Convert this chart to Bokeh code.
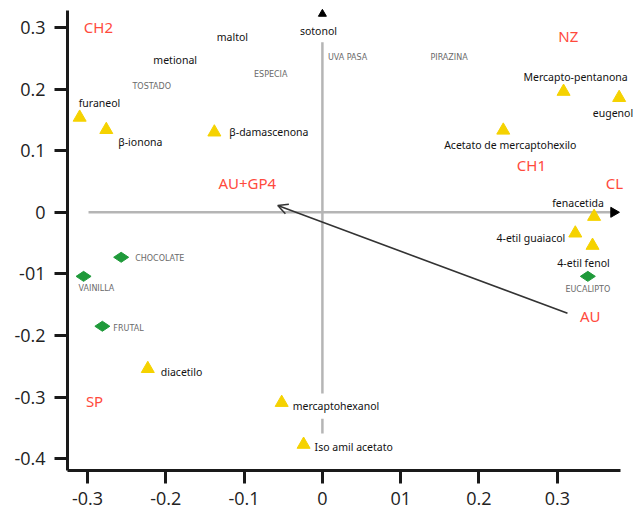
import math
from bokeh.plotting import figure
from bokeh.models import FixedTicker, Arrow, OpenHead, ColumnDataSource
from bokeh.core.properties import value
from bokeh.embed import file_html
from bokeh.resources import INLINE

# ---------------- data ----------------
x_ticks = [-0.3, -0.2, -0.1, 0.0, 0.1, 0.2, 0.3]
x_tick_labels = ["-0.3", "-0.2", "-0.1", "0", "01", "0.2", "0.3"]
y_ticks = [-0.4, -0.3, -0.2, -0.1, 0.0, 0.1, 0.2, 0.3]
y_tick_labels = ["-0.4", "-0.3", "-0.2", "-01", "0", "0.1", "0.2", "0.3"]

# aroma compounds (yellow triangles)
comp_names = ["furaneol", "β-ionona", "β-damascenona", "Mercapto-pentanona", "eugenol",
              "Acetato de mercaptohexilo", "fenacetida", "4-etil guaiacol", "4-etil fenol",
              "diacetilo", "mercaptohexanol", "Iso amil acetato"]
comp_x = [-0.310, -0.276, -0.138, 0.308, 0.379, 0.231, 0.347, 0.323, 0.345, -0.223, -0.052, -0.024]
comp_y = [0.154, 0.134, 0.130, 0.196, 0.186, 0.133, -0.007, -0.034, -0.054, -0.254, -0.309, -0.377]

# aroma descriptors (green diamonds)
desc_names = ["CHOCOLATE", "VAINILLA", "FRUTAL", "EUCALIPTO"]
desc_x = [-0.257, -0.305, -0.281, 0.339]
desc_y = [-0.073, -0.104, -0.185, -0.104]

# descriptors / compounds without marker
free_gray_names = ["TOSTADO", "ESPECIA", "UVA PASA", "PIRAZINA"]
free_gray_x = [-0.218, -0.066, 0.007, 0.138]
free_gray_y = [0.204, 0.224, 0.251, 0.251]
free_black_names = ["maltol", "metional", "sotonol"]
free_black_x = [-0.115, -0.188, -0.005]
free_black_y = [0.285, 0.248, 0.294]

# samples (red)
sample_names = ["CH2", "NZ", "CH1", "CL", "AU+GP4", "AU", "SP"]
sample_x = [-0.286, 0.314, 0.267, 0.373, -0.096, 0.342, -0.291]
sample_y = [0.300, 0.287, 0.076, 0.047, 0.047, -0.168, -0.307]

# vector AU -> AU+GP4
vec_start = (0.313, -0.164)
vec_end = (-0.057, 0.011)

# reference axes through the origin
h_axis_x = [-0.2987, 0.372]
v_axis_segments_y = [(0.276, -0.294), (-0.335, -0.359)]
v_axis_tip_y = 0.322

# ---------------- label layout (pixel offsets) ----------------
comp_align = ["left", "left", "left", "center", "right", "center", "center", "right", "center",
              "left", "left", "left"]
comp_dx = [-1, 12, 15, 12, 14, 7, -16, -10, -9, 13, 11, 11]
comp_dy = [-14, 12, 0, -15, 15, 15, -14, 5, 17, 3, 3, 2]
desc_align = ["left", "left", "left", "center"]
desc_dx = [14, -5, 11, 0]
desc_dy = [1, 12, 2, 13]

p = figure(width=636, height=518, output_backend="svg", toolbar_location=None,
           x_range=(-0.32554, 0.40115), y_range=(-0.41916, 0.34383),
           min_border_left=67, min_border_right=0, min_border_top=0, min_border_bottom=48)
p.outline_line_color = None
p.grid.grid_line_color = None
p.background_fill_color = "white"
p.border_fill_color = "white"

for ax, ticks, labels in ((p.xaxis[0], x_ticks, x_tick_labels), (p.yaxis[0], y_ticks, y_tick_labels)):
    ax.ticker = FixedTicker(ticks=ticks)
    ax.major_label_overrides = {t: l for t, l in zip(ticks, labels)}
    ax.axis_line_width = 3
    ax.axis_line_color = "#1a1a1a"
    ax.major_tick_line_width = 3
    ax.major_tick_line_color = "#1a1a1a"
    ax.major_tick_out = 13
    ax.major_tick_in = 0
    ax.minor_tick_line_color = None
    ax.major_label_text_font = "Open Sans"
    ax.major_label_text_font_size = "18px"
    ax.major_label_text_color = "#222222"
p.xaxis.bounds = (-0.3255, 0.381)
p.yaxis.bounds = (-0.419, 0.3276)
p.xaxis.major_label_standoff = 8
p.yaxis.major_label_standoff = 9

# reference axes (gray)
p.line(x=h_axis_x, y=[0, 0], line_color="#b5b5b5", line_width=2.5)
for y0, y1 in v_axis_segments_y:
    p.line(x=[0, 0], y=[y0, y1], line_color="#b5b5b5", line_width=2.5)
p.scatter(x=[h_axis_x[1]], y=[0], marker="triangle", angle=-math.pi / 2, size=10,
          fill_color="black", line_color="black")
p.scatter(x=[0], y=[v_axis_tip_y], marker="triangle", size=8, fill_color="black", line_color="black")

# vector
p.add_layout(Arrow(end=OpenHead(size=10, line_width=1.5, line_color="#333333"),
                   x_start=vec_start[0], y_start=vec_start[1], x_end=vec_end[0], y_end=vec_end[1],
                   line_color="#333333", line_width=1.6))

# markers
p.scatter(x=comp_x, y=comp_y, marker="triangle", size=13, fill_color="#f5d200", line_color="#f5d200")
p.scatter(x=desc_x, y=desc_y, marker="diamond", angle=math.pi / 2, size=15,
          fill_color="#1f9a3a", line_color="#1f9a3a")

# compound labels
csrc = ColumnDataSource(dict(x=comp_x, y=comp_y, t=comp_names, a=comp_align, dx=comp_dx, dy=comp_dy))
p.text(x="x", y="y", text="t", source=csrc, text_align="a", x_offset="dx", y_offset="dy",
       text_baseline="middle", text_font=value("Noto Sans"), text_font_size="10.5px",
       text_color="#111111")
dsrc = ColumnDataSource(dict(x=desc_x, y=desc_y, t=desc_names, a=desc_align, dx=desc_dx, dy=desc_dy))
p.text(x="x", y="y", text="t", source=dsrc, text_align="a", x_offset="dx", y_offset="dy",
       text_baseline="middle", text_font=value("DejaVu Sans"), text_font_size="8px",
       text_color="#6a6a6a")

# free labels
p.text(x=free_gray_x[:2], y=free_gray_y[:2], text=free_gray_names[:2], text_align="center",
       text_baseline="middle", text_font=value("DejaVu Sans"), text_font_size="8px", text_color="#6a6a6a")
p.text(x=free_gray_x[2:], y=free_gray_y[2:], text=free_gray_names[2:], text_align="left",
       text_baseline="middle", text_font=value("DejaVu Sans"), text_font_size="8px", text_color="#6a6a6a")
p.text(x=free_black_x, y=free_black_y, text=free_black_names, text_align="center",
       text_baseline="middle", text_font=value("Noto Sans"), text_font_size="10.5px", text_color="#111111")

# sample labels
p.text(x=sample_x, y=sample_y, text=sample_names, text_align="center", text_baseline="middle",
       text_font=value("Noto Sans"), text_font_size="15px", text_color="#ff4a3d")

open("out.html", "w").write(file_html(p, INLINE))
